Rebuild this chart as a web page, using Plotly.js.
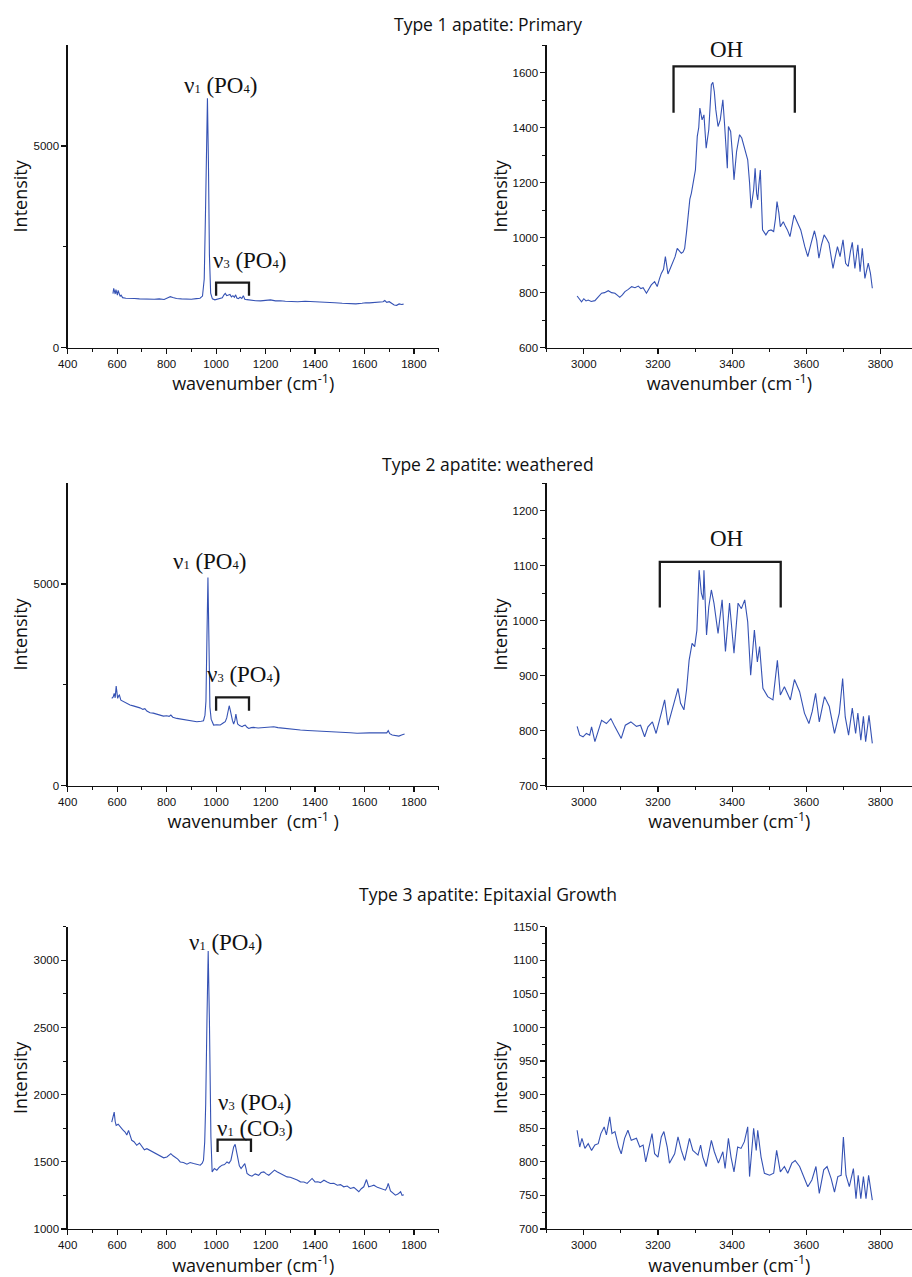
<!DOCTYPE html>
<html>
<head>
<meta charset="utf-8">
<script src="https://cdn.plot.ly/plotly-3.0.1.min.js"></script>
<style>
  html, body { margin: 0; padding: 0; background: #ffffff; }
  #chart { width: 912px; height: 1277px; }
</style>
</head>
<body>
<div id="chart"></div>
<script>
// Raman spectra of three apatite types: phosphate region (left) and OH stretching region (right)

// Type 1 apatite: primary, 580-1760 cm-1
const type1PhosWn = [583,586,589,592,595,598,601,604,608,612,616,622,635,650,670,690,710,730,750,770,790,805,815,825,840,860,880,900,920,935,945,952,957,961,965,969,973,978,985,995,1005,1015,1025,1032,1037,1043,1050,1056,1062,1068,1074,1079,1084,1090,1097,1104,1110,1116,1125,1140,1160,1180,1200,1220,1240,1260,1280,1300,1330,1360,1390,1420,1450,1480,1510,1540,1565,1590,1605,1620,1640,1660,1675,1682,1690,1700,1710,1720,1730,1740,1750,1758];
const type1PhosInt = [1340,1470,1400,1330,1440,1360,1300,1420,1330,1270,1300,1240,1225,1215,1220,1210,1205,1215,1200,1210,1195,1240,1265,1245,1220,1210,1205,1200,1215,1225,1280,1700,3300,5500,6180,4600,2300,1350,1210,1185,1200,1220,1235,1310,1345,1290,1300,1320,1260,1290,1250,1310,1230,1215,1250,1220,1290,1200,1190,1175,1165,1160,1170,1185,1160,1165,1150,1145,1140,1150,1145,1130,1120,1115,1100,1095,1085,1100,1115,1110,1120,1115,1140,1170,1125,1140,1090,1060,1050,1085,1070,1080];

// Type 1 apatite: primary, OH region
const type1OhWn = [2982,2988,2994,3000,3006,3012,3020,3030,3040,3048,3056,3066,3075,3084,3091,3097,3104,3111,3120,3129,3138,3147,3154,3160,3169,3176,3182,3191,3198,3204,3209,3215,3220,3227,3234,3240,3246,3252,3258,3263,3268,3272,3277,3281,3286,3290,3296,3301,3306,3310,3313,3319,3324,3330,3337,3341,3344,3348,3352,3356,3362,3368,3375,3380,3384,3387,3390,3396,3401,3405,3412,3420,3426,3433,3442,3447,3451,3458,3462,3466,3469,3472,3476,3482,3491,3498,3505,3512,3517,3521,3526,3530,3538,3544,3549,3556,3562,3567,3576,3585,3596,3604,3613,3622,3628,3634,3641,3648,3655,3661,3667,3672,3678,3684,3691,3699,3706,3713,3719,3724,3731,3739,3745,3751,3758,3763,3767,3773,3778];
const type1OhInt = [788,775,767,778,770,773,768,771,785,798,800,807,800,798,790,783,792,804,812,822,818,824,815,818,798,815,828,840,822,850,870,885,931,868,890,907,930,961,950,943,948,961,1020,1088,1140,1161,1210,1246,1368,1400,1471,1428,1446,1325,1392,1480,1556,1564,1530,1465,1404,1428,1501,1404,1330,1252,1404,1386,1300,1210,1313,1374,1362,1325,1283,1200,1107,1174,1252,1160,1137,1190,1246,1028,1010,1025,1028,1022,1070,1131,1090,1040,1058,1040,1028,1004,1050,1082,1055,1028,967,931,980,1025,990,925,975,1010,995,980,930,888,930,967,931,992,907,895,950,983,888,974,876,961,852,890,907,870,816];

// Type 2 apatite: weathered, 580-1760 cm-1
const type2PhosWn = [578,584,588,592,596,599,602,606,609,615,625,638,652,665,679,692,704,712,720,733,746,760,774,787,800,810,817,825,841,860,882,900,922,940,949,955,959,963,967,971,975,980,990,1003,1017,1030,1037,1043,1047,1053,1057,1060,1066,1071,1076,1080,1084,1087,1095,1105,1112,1118,1125,1132,1142,1152,1170,1190,1206,1220,1233,1250,1270,1287,1310,1341,1370,1395,1430,1476,1510,1543,1570,1597,1620,1638,1660,1678,1690,1696,1702,1712,1725,1739,1750,1762];
const type2PhosInt = [2165,2200,2289,2180,2471,2300,2165,2230,2248,2120,2083,2050,2000,1980,1959,1930,1893,1910,1850,1810,1800,1777,1760,1727,1735,1720,1752,1700,1669,1650,1628,1610,1587,1600,1612,1750,2100,3700,5165,3600,1950,1650,1504,1510,1504,1560,1587,1680,1793,1983,1880,1752,1620,1529,1620,1777,1640,1529,1490,1463,1490,1504,1450,1421,1440,1446,1430,1440,1446,1450,1463,1440,1425,1413,1400,1380,1370,1364,1350,1330,1320,1314,1300,1297,1310,1314,1305,1297,1310,1364,1290,1256,1240,1231,1260,1281];

// Type 2 apatite: weathered, OH region
const type2OhWn = [2982,2989,2998,3007,3016,3021,3030,3039,3048,3061,3073,3084,3092,3101,3112,3127,3142,3153,3164,3173,3185,3195,3209,3218,3227,3236,3245,3254,3261,3270,3277,3284,3292,3299,3305,3311,3317,3322,3324,3331,3337,3344,3351,3362,3373,3382,3393,3405,3416,3425,3434,3442,3450,3460,3468,3474,3483,3496,3510,3522,3530,3541,3557,3568,3582,3595,3607,3616,3625,3635,3649,3662,3676,3689,3698,3705,3714,3724,3733,3739,3747,3754,3760,3769,3778];
const type2OhInt = [808,792,789,795,792,807,780,801,819,813,822,807,798,786,810,816,808,810,789,807,816,795,832,856,810,832,853,877,850,838,874,928,959,953,983,1092,1050,1038,1092,974,1025,1056,1032,977,1038,944,1032,941,1032,1022,1038,998,901,983,925,953,877,862,856,928,865,880,856,893,871,832,813,835,868,816,862,844,795,832,895,825,792,841,795,832,783,826,780,828,777];

// Type 3 apatite: epitaxial growth, 580-1760 cm-1
const type3PhosWn = [578,584,588,592,596,604,612,622,632,639,646,652,659,668,679,690,700,710,720,733,747,760,774,788,801,809,817,826,835,845,855,868,882,895,909,922,936,944,949,954,958,963,968,973,979,984,993,1003,1013,1024,1034,1044,1052,1060,1066,1071,1077,1082,1087,1094,1101,1108,1116,1121,1125,1135,1145,1158,1172,1182,1193,1203,1213,1225,1236,1248,1260,1273,1287,1300,1314,1328,1341,1355,1368,1378,1388,1400,1411,1422,1436,1449,1462,1476,1490,1503,1516,1530,1543,1557,1567,1577,1587,1597,1608,1617,1628,1638,1652,1665,1675,1685,1691,1696,1705,1715,1725,1735,1746,1752,1759];
const type3PhosInt = [1796,1830,1870,1800,1771,1780,1759,1740,1722,1700,1734,1690,1660,1650,1623,1640,1611,1590,1598,1585,1574,1560,1549,1530,1536,1548,1561,1545,1536,1520,1499,1495,1482,1495,1487,1480,1475,1490,1512,1650,1932,2550,3069,2550,1685,1425,1450,1438,1460,1475,1480,1499,1490,1512,1560,1611,1630,1580,1512,1470,1450,1470,1487,1450,1413,1400,1393,1410,1400,1420,1425,1410,1400,1420,1438,1425,1413,1400,1388,1385,1376,1365,1351,1350,1339,1360,1376,1350,1351,1345,1363,1350,1339,1340,1326,1330,1314,1320,1302,1310,1290,1277,1300,1314,1368,1314,1320,1326,1310,1302,1300,1289,1310,1339,1284,1265,1252,1260,1277,1250,1255];

// Type 3 apatite: epitaxial growth, OH region
const type3OhWn = [2982,2989,2995,3003,3012,3021,3030,3039,3046,3055,3061,3070,3076,3084,3094,3101,3110,3119,3128,3142,3151,3160,3167,3176,3184,3191,3200,3209,3216,3225,3231,3245,3254,3263,3272,3285,3294,3308,3315,3321,3330,3344,3352,3363,3375,3381,3390,3397,3405,3415,3424,3433,3442,3447,3454,3458,3465,3469,3478,3487,3501,3512,3520,3530,3541,3550,3561,3570,3582,3593,3604,3615,3626,3635,3647,3656,3667,3676,3685,3694,3700,3707,3716,3727,3734,3740,3747,3754,3761,3768,3778];
const type3OhInt = [847,822,835,820,827,817,825,827,842,852,840,867,842,845,822,812,835,847,832,835,822,825,800,825,842,812,807,837,845,822,798,812,837,817,802,835,817,810,825,807,793,832,815,798,815,790,835,807,785,822,820,830,852,778,817,850,817,847,807,783,780,783,817,785,793,783,798,802,793,778,763,773,793,753,788,793,775,755,778,780,837,780,763,790,745,780,745,778,745,780,743];

// Band assignments marked with brackets: [start, end] in cm-1
const v3Band = [1000, 1133];
const v3v1Band = [1006, 1141];
const ohBandType1 = [3242, 3569];
const ohBandType2 = [3205, 3531];

const panelTitles = ['Type 1 apatite: Primary', 'Type 2 apatite: weathered', 'Type 3 apatite: Epitaxial Growth'];
const intensityTitle = 'Intensity';

const W = 912, H = 1277;
const px = v => v / W;           // pixel column -> paper x
const py = v => 1 - v / H;       // pixel row -> paper y

const LINE = '#3552b4';
const tickFont = { family: 'Liberation Sans, Arial, sans-serif', size: 11.5, color: '#111' };
const axTitleFont = { family: 'Open Sans, Noto Sans, sans-serif', size: 18, color: '#111' };
const labelFont = { family: 'Liberation Serif, Times New Roman, serif', size: 23, color: '#111' };

const leftDom = [px(67.7), px(438.7)];
const rightDom = [px(546.7), 1];
const rowDom = [[py(347.7), py(45)], [py(785.7), py(483.3)], [py(1229), py(926.7)]];

function trace(x, y, n) {
  return { x: x, y: y, xaxis: 'x' + (n === 1 ? '' : n), yaxis: 'y' + (n === 1 ? '' : n),
           type: 'scatter', mode: 'lines', line: { color: LINE, width: 1.1 }, hoverinfo: 'skip' };
}

const data = [
  trace(type1PhosWn, type1PhosInt, 1),
  trace(type1OhWn, type1OhInt, 2),
  trace(type2PhosWn, type2PhosInt, 3),
  trace(type2OhWn, type2OhInt, 4),
  trace(type3PhosWn, type3PhosInt, 5),
  trace(type3OhWn, type3OhInt, 6)
];

const common = {
  showline: true, linecolor: '#111', linewidth: 1.3, mirror: false,
  showgrid: false, zeroline: false,
  ticks: 'outside', ticklen: 5, tickwidth: 1.2, tickcolor: '#111',
  tickfont: tickFont, fixedrange: true
};
const minorTicks = { ticks: 'outside', ticklen: 3, tickwidth: 1, tickcolor: '#111', showgrid: false };

function xLeft(anchor, dom, title) {
  return Object.assign({}, common, {
    domain: dom, anchor: anchor, range: [400, 1900], tick0: 400, dtick: 200,
    minor: Object.assign({ dtick: 100 }, minorTicks),
    title: { text: title, font: axTitleFont, standoff: 4 }
  });
}
function xRight(anchor, dom, title) {
  return Object.assign({}, common, {
    domain: dom, anchor: anchor, range: [2900, 3885], tick0: 3000, dtick: 200,
    minor: Object.assign({ dtick: 100 }, minorTicks),
    title: { text: title, font: axTitleFont, standoff: 4 }
  });
}
function yAx(anchor, dom, range, extra, standoff) {
  return Object.assign({}, common, {
    domain: dom, anchor: anchor, range: range,
    title: { text: intensityTitle, font: axTitleFont, standoff: standoff }
  }, extra);
}

const wnTitle = 'wavenumber (cm<sup>-1</sup>)';

const layout = {
  width: W, height: H,
  margin: { l: 0, r: 0, t: 0, b: 0 },
  paper_bgcolor: '#ffffff', plot_bgcolor: '#ffffff',
  showlegend: false,
  xaxis:  xLeft('y', leftDom, wnTitle),
  xaxis2: xRight('y2', rightDom, 'wavenumber (cm<sup> -1</sup>)'),
  xaxis3: xLeft('y3', leftDom, 'wavenumber\u00a0 (cm<sup>-1</sup>\u00a0)'),
  xaxis4: xRight('y4', rightDom, wnTitle),
  xaxis5: xLeft('y5', leftDom, wnTitle),
  xaxis6: xRight('y6', rightDom, wnTitle),
  yaxis:  yAx('x',  rowDom[0], [0, 7500], { tickmode: 'array', tickvals: [0, 5000],
            minor: Object.assign({ tickmode: 'array', tickvals: [2500] }, minorTicks) }, 1),
  yaxis2: yAx('x2', rowDom[0], [600, 1700], { tick0: 600, dtick: 200,
            minor: Object.assign({ dtick: 100 }, minorTicks) }, 0),
  yaxis3: yAx('x3', rowDom[1], [0, 7500], { tickmode: 'array', tickvals: [0, 5000],
            minor: Object.assign({ tickmode: 'array', tickvals: [2500] }, minorTicks) }, 1),
  yaxis4: yAx('x4', rowDom[1], [700, 1250], { tick0: 700, dtick: 100,
            minor: Object.assign({ dtick: 50 }, minorTicks) }, 0),
  yaxis5: yAx('x5', rowDom[2], [1000, 3250], { tick0: 1000, dtick: 500,
            minor: Object.assign({ dtick: 250 }, minorTicks) }, 1),
  yaxis6: yAx('x6', rowDom[2], [700, 1150], { tick0: 700, dtick: 50,
            minor: Object.assign({ dtick: 25 }, minorTicks) }, 0),
  shapes: [],
  annotations: []
};

// Square brackets spanning a band, drawn in data coordinates
function bracket(n, band, yLow, yHigh) {
  const s = n === 1 ? '' : String(n);
  layout.shapes.push({
    type: 'path', xref: 'x' + s, yref: 'y' + s,
    path: 'M' + band[0] + ',' + yLow + ' L' + band[0] + ',' + yHigh +
          ' L' + band[1] + ',' + yHigh + ' L' + band[1] + ',' + yLow,
    line: { color: '#1a1a1a', width: 2.3 }
  });
}
bracket(1, v3Band, 1290, 1610);
bracket(2, ohBandType1, 1454, 1622);
bracket(3, v3Band, 1860, 2190);
bracket(4, ohBandType2, 1024, 1107);
bracket(5, v3v1Band, 1573, 1665);

function label(text, cx, cy, font) {
  layout.annotations.push({
    text: text, x: px(cx), y: py(cy), xref: 'paper', yref: 'paper',
    xanchor: 'center', yanchor: 'middle', showarrow: false, font: font || labelFont
  });
}
// small index digits sitting near the baseline
const idx = d => '<span style="font-size:12.5px">' + d + '</span>';
const nu1PO4 = '\u03bd' + idx(1) + ' (PO' + idx(4) + ')';
const nu3PO4 = '\u03bd' + idx(3) + ' (PO' + idx(4) + ')';
const nu1CO3 = '\u03bd' + idx(1) + ' (CO' + idx(3) + ')';

label(nu1PO4, 220.5, 85);
label(nu3PO4, 249, 260);
label('OH', 726, 50);
label(nu1PO4, 209.5, 561);
label(nu3PO4, 243, 675);
label('OH', 726.3, 539);
label(nu1PO4, 225, 942);
label(nu3PO4, 254.3, 1102);
label(nu1CO3, 254.7, 1128);

// Section headings
const headFont = { family: 'Open Sans, Noto Sans, sans-serif', size: 17.5, color: '#111' };
label(panelTitles[0], 487.5, 24, headFont);
label(panelTitles[1], 487.5, 464, headFont);
label(panelTitles[2], 487.5, 894, headFont);

Plotly.newPlot('chart', data, layout, { staticPlot: true, displayModeBar: false });
</script>
</body>
</html>
